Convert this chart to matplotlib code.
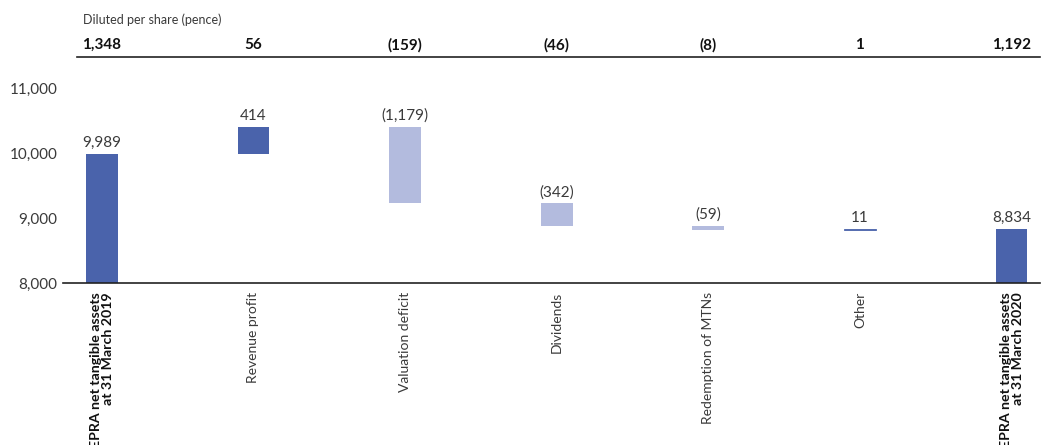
import numpy as np
import matplotlib.pyplot as plt
import matplotlib.transforms as mtransforms

plt.rcParams['font.family'] = ['Lato', 'DejaVu Sans']

categories = [
    "EPRA net tangible assets\nat 31 March 2019",
    "Revenue profit",
    "Valuation deficit",
    "Dividends",
    "Redemption of MTNs",
    "Other",
    "EPRA net tangible assets\nat 31 March 2020",
]
# first and last are totals, the rest are movements
values = [9989, 414, -1179, -342, -59, 11, 8834]
value_labels = ["9,989", "414", "(1,179)", "(342)", "(59)", "11", "8,834"]
per_share = ["1,348", "56", "(159)", "(46)", "(8)", "1", "1,192"]
is_total = [True, False, False, False, False, False, True]

dark = "#4a63ab"
light = "#b3bbde"
text_col = "#3a3a3a"

fig = plt.figure(figsize=(10.48, 4.45), dpi=100)
ax = fig.add_axes([0.060, 0.364, 0.932, 0.438])

x = np.arange(len(categories))
width = 0.21
running = 0
for i, (v, tot) in enumerate(zip(values, is_total)):
    if tot:
        bottom, height, color = 0, v, dark
        running = v
    else:
        bottom = running if v >= 0 else running + v
        height = abs(v)
        color = dark if v >= 0 else light
        running += v
    top = bottom + height
    if i == 5:
        # tiny movement drawn as a thin line
        ax.bar(x[i], height, bottom=bottom, width=width, color=color,
               edgecolor=color, linewidth=0.6)
    else:
        ax.bar(x[i], height, bottom=bottom, width=width, color=color)
    ax.text(x[i], top + 60, value_labels[i], ha="center", va="bottom",
            fontsize=11, color=text_col)

ax.set_ylim(8000, 11000)
ax.set_xlim(-0.257, 6.185)
ax.set_yticks([8000, 9000, 10000, 11000])
ax.set_yticklabels(["8,000", "9,000", "10,000", "11,000"])
ax.tick_params(axis="y", length=0, labelsize=11, labelcolor=text_col, pad=4)
ax.set_xticks([])
for side in ["top", "right", "left"]:
    ax.spines[side].set_visible(False)
ax.spines["bottom"].set_color("#222222")
ax.spines["bottom"].set_linewidth(1.2)

# rotated category labels under the axis
label_trans = mtransforms.blended_transform_factory(ax.transData, fig.transFigure)
for i, cat in enumerate(categories):
    ax.text(x[i], 1 - 292 / 445, cat, rotation=90, ha="center", va="top",
            multialignment="right", fontsize=10.2 if is_total[i] else 10,
            fontweight="bold" if is_total[i] else "normal",
            color="#111111" if is_total[i] else text_col,
            transform=label_trans, linespacing=1.0)

# per-share header row
fig.text(83 / 1048, 1 - 20 / 445, "Diluted per share (pence)", fontsize=9,
         color=text_col, va="center", ha="left")
for i, s in enumerate(per_share):
    ax.text(x[i], 1 - 45 / 445, s, ha="center", va="center", fontsize=11,
            fontweight="bold", color="#111111", transform=label_trans)
fig.add_artist(plt.Line2D([77 / 1048, 1040 / 1048], [1 - 57 / 445, 1 - 57 / 445],
                          color="#222222", linewidth=1.2, transform=fig.transFigure))

fig.savefig("out.png", dpi=100)
